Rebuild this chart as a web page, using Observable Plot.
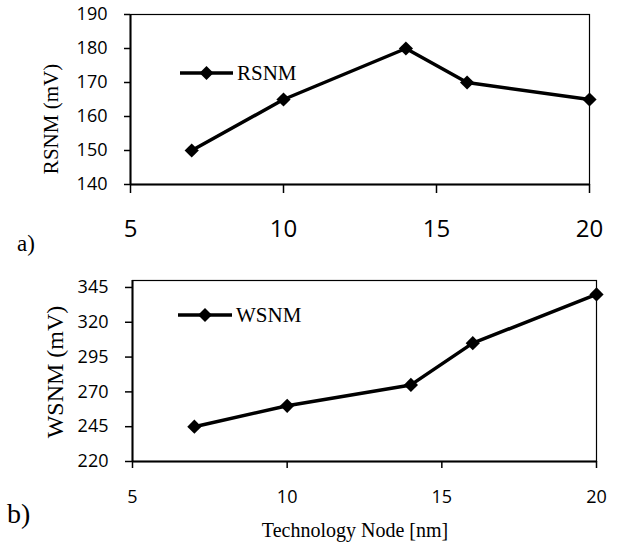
<!DOCTYPE html>
<html>
<head>
<meta charset="utf-8">
<script src="https://cdn.jsdelivr.net/npm/d3@7"></script>
<script src="https://cdn.jsdelivr.net/npm/@observablehq/plot@0.6"></script>
<style>
  html, body { margin: 0; padding: 0; background: white; }
  #wrap { position: relative; width: 618px; height: 549px; background: white; overflow: hidden; }
  #wrap > svg { position: absolute; left: 0; }
  #overlay { position: absolute; left: 0; top: 0; pointer-events: none; }
</style>
</head>
<body>
<div id="wrap"></div>
<script>
// ---- data ----
const nodes = [7, 10, 14, 16, 20];
const rsnm = [150, 165, 180, 170, 165];
const wsnm = [245, 260, 275, 305, 340];
const xTicks = [5, 10, 15, 20];
const rsnmTicks = [140, 150, 160, 170, 180, 190];
const wsnmTicks = [220, 245, 270, 295, 320, 345];
const panelLabels = ["a)", "b)"];
const seriesNames = ["RSNM", "WSNM"];
const yTitles = ["RSNM (mV)", "WSNM (mV)"];
const xTitle = "Technology Node [nm]";

const rData = nodes.map((n, i) => ({node: n, value: rsnm[i]}));
const wData = nodes.map((n, i) => ({node: n, value: wsnm[i]}));

const wrap = document.getElementById("wrap");

function panel({data, yDomain, yTicks, height, top, mL, mR, mT, mB, xFont, xTickSize, xPad, yTickSize, yPad}) {
  const svg = Plot.plot({
    width: 618, height,
    marginLeft: mL, marginRight: mR, marginTop: mT, marginBottom: mB,
    style: {fontFamily: "'Open Sans', sans-serif", fontSize: "18px", background: "white", color: "black", overflow: "visible"},
    x: {domain: [5, 20], ticks: xTicks, tickSize: xTickSize, tickPadding: xPad, label: null, tickFormat: d => String(d)},
    y: {domain: yDomain, ticks: yTicks, tickSize: yTickSize, tickPadding: yPad, label: null, tickFormat: d => String(d)},
    marks: [
      Plot.frame({stroke: "black", strokeWidth: 1.2}),
      Plot.ruleX([5], {stroke: "black", strokeWidth: 2}),
      Plot.ruleY([yDomain[0]], {stroke: "black", strokeWidth: 2}),
      Plot.line(data, {x: "node", y: "value", stroke: "black", strokeWidth: 3.5}),
      Plot.dot(data, {x: "node", y: "value", symbol: "diamond2", r: 6.4, fill: "black", stroke: "none"})
    ]
  });
  svg.style.top = top + "px";
  d3.select(svg).selectAll('[aria-label^="x-axis"] text').style("font-size", xFont + "px");
  d3.select(svg).selectAll('[aria-label^="x-axis"] line, [aria-label^="x-axis"] path').attr("stroke-width", 1.5);
  d3.select(svg).selectAll('[aria-label^="y-axis"] line, [aria-label^="y-axis"] path').attr("stroke-width", 1.5);
  wrap.appendChild(svg);
}

panel({data: rData, yDomain: [140, 190], yTicks: rsnmTicks, height: 260, top: 0,
  mL: 130, mR: 29, mT: 14, mB: 76, xFont: 24, xTickSize: 9, xPad: 26, yTickSize: 6, yPad: 17});
panel({data: wData, yDomain: [220, 350], yTicks: wsnmTicks, height: 289, top: 260,
  mL: 132, mR: 22, mT: 20, mB: 88, xFont: 18, xTickSize: 7, xPad: 22, yTickSize: 7, yPad: 17});

// ---- overlay texts & legends ----
const ov = d3.create("svg").attr("id", "overlay").attr("width", 618).attr("height", 549)
  .style("font-family", "'Liberation Serif', 'Times New Roman', serif");

function legend(x0, x1, y, name) {
  ov.append("line").attr("x1", x0).attr("x2", x1).attr("y1", y).attr("y2", y)
    .attr("stroke", "black").attr("stroke-width", 3.5);
  const cx = (x0 + x1) / 2, h = 7;
  ov.append("path").attr("d", `M${cx},${y - h}L${cx + h},${y}L${cx},${y + h}L${cx - h},${y}Z`).attr("fill", "black");
  ov.append("text").attr("x", x1 + 4).attr("y", y).attr("dy", "0.35em").attr("font-size", 21).text(name);
}
legend(180, 233, 73, seriesNames[0]);
legend(178, 232, 315, seriesNames[1]);

ov.append("text").attr("transform", "translate(51,119) rotate(-90)").attr("text-anchor", "middle")
  .attr("dy", "0.35em").attr("font-size", 21).text(yTitles[0]);
ov.append("text").attr("transform", "translate(55,372) rotate(-90)").attr("text-anchor", "middle")
  .attr("dy", "0.35em").attr("font-size", 24).text(yTitles[1]);
ov.append("text").attr("x", 17).attr("y", 243).attr("dy", "0.35em").attr("font-size", 23).text(panelLabels[0]);
ov.append("text").attr("x", 7).attr("y", 513).attr("dy", "0.35em").attr("font-size", 28).text(panelLabels[1]);
ov.append("text").attr("x", 355).attr("y", 530).attr("text-anchor", "middle").attr("dy", "0.35em")
  .attr("font-size", 20).text(xTitle);

wrap.appendChild(ov.node());
</script>
</body>
</html>
